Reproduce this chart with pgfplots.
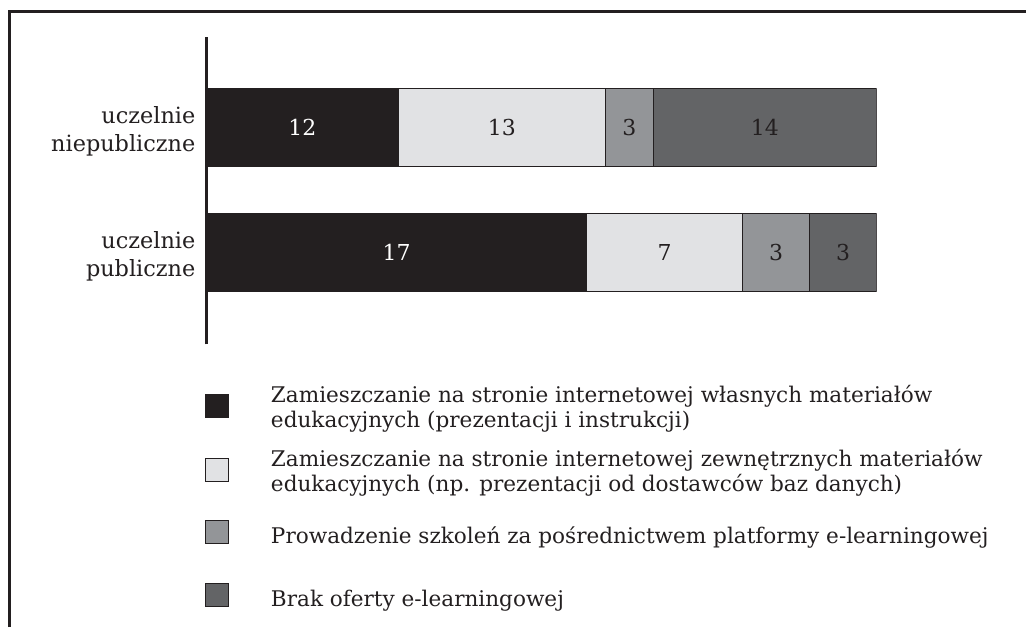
\documentclass[border=0pt]{standalone}
\usepackage{pgfplots}
\pgfplotsset{compat=1.18}
\usepackage{pgfplotstable}
\usepackage{fontspec}
\setmainfont{DejaVu Serif}
\definecolor{cA}{HTML}{231F20}
\definecolor{cB}{HTML}{E1E2E4}
\definecolor{cC}{HTML}{939598}
\definecolor{cD}{HTML}{636466}
\pgfplotstableread{
y a b c d tot
2 12 13 3 14 42
1 17 7 3 3 30
}\data
\begin{document}
\begin{tikzpicture}
\begin{axis}[
  at={(0,0)}, anchor=south west,
  scale only axis, width=335.5pt, height=154pt,
  xmin=0, xmax=100.01, ymin=0.264, ymax=2.728,
  xbar stacked, bar width=39pt,
  axis x line=none, axis y line*=left,
  y axis line style={line width=1.5pt, color=cA, -},
  ytick={1,2}, yticklabels={{uczelnie\\publiczne},{uczelnie\\niepubliczne}},
  major tick length=0pt,
  yticklabel style={align=right, font=\fontsize{11.2}{14}\selectfont, text=cA, inner sep=0pt, xshift=-5.5pt, yshift=-2pt},
  point meta=explicit symbolic,
  nodes near coords,
  every node near coord/.append style={font=\fontsize{11}{13}\selectfont, anchor=center},
  legend style={at={(-0.003,-0.1006)}, anchor=north west, draw=none, fill=none,
     inner sep=0pt, row sep=0pt,
     nodes={inner sep=0pt, align=left, font=\fontsize{10.8}{12.5}\selectfont, text=cA},
     /tikz/every odd column/.append style={column sep=21pt}},
  legend cell align=left,
]
\addplot[fill=cA, draw=cA, line width=0.5pt, every node near coord/.append style={text=white},
  legend image code/.code={\path (0pt,-15.25pt) (0pt,16pt);\draw[fill=cA,draw=cA,line width=0.5pt] (0pt,-4.75pt) rectangle (11.5pt,6.75pt);}]
  table[x expr=\thisrow{a}/\thisrow{tot}*100, y=y, meta=a]{\data};
\addlegendentry{Zamieszczanie na stronie internetowej własnych materiałów\\edukacyjnych (prezentacji i instrukcji)}
\addplot[fill=cB, draw=cA, line width=0.5pt, every node near coord/.append style={text=cA},
  legend image code/.code={\path (0pt,-16.25pt) (0pt,16pt);\draw[fill=cB,draw=cA,line width=0.5pt] (0pt,-4.75pt) rectangle (11.5pt,6.75pt);}]
  table[x expr=\thisrow{b}/\thisrow{tot}*100, y=y, meta=b]{\data};
\addlegendentry{Zamieszczanie na stronie internetowej zewnętrznych materiałów\\edukacyjnych (np. prezentacji od dostawców baz danych)}
\addplot[fill=cC, draw=cA, line width=0.5pt, every node near coord/.append style={text=cA},
  legend image code/.code={\path (0pt,-15pt) (0pt,16pt);\draw[fill=cC,draw=cA,line width=0.5pt] (0pt,-3.25pt) rectangle (11.5pt,8.25pt);}]
  table[x expr=\thisrow{c}/\thisrow{tot}*100, y=y, meta=c]{\data};
\addlegendentry{Prowadzenie szkoleń za pośrednictwem platformy e-learningowej}
\addplot[fill=cD, draw=cA, line width=0.5pt, every node near coord/.append style={text=cA},
  legend image code/.code={\path (0pt,-5pt) (0pt,16pt);\draw[fill=cD,draw=cA,line width=0.5pt] (0pt,-3.25pt) rectangle (11.5pt,8.25pt);}]
  table[x expr=\thisrow{d}/\thisrow{tot}*100, y=y, meta=d]{\data};
\addlegendentry{Brak oferty e-learningowej}
\end{axis}
\draw[cA, line width=1.5pt] (-98.5pt,-141.5pt) -- (-98.5pt,166.5pt) -- (410pt,166.5pt);
\useasboundingbox (-103.5pt,-141.5pt) rectangle (410pt,172.5pt);
\end{tikzpicture}
\end{document}
